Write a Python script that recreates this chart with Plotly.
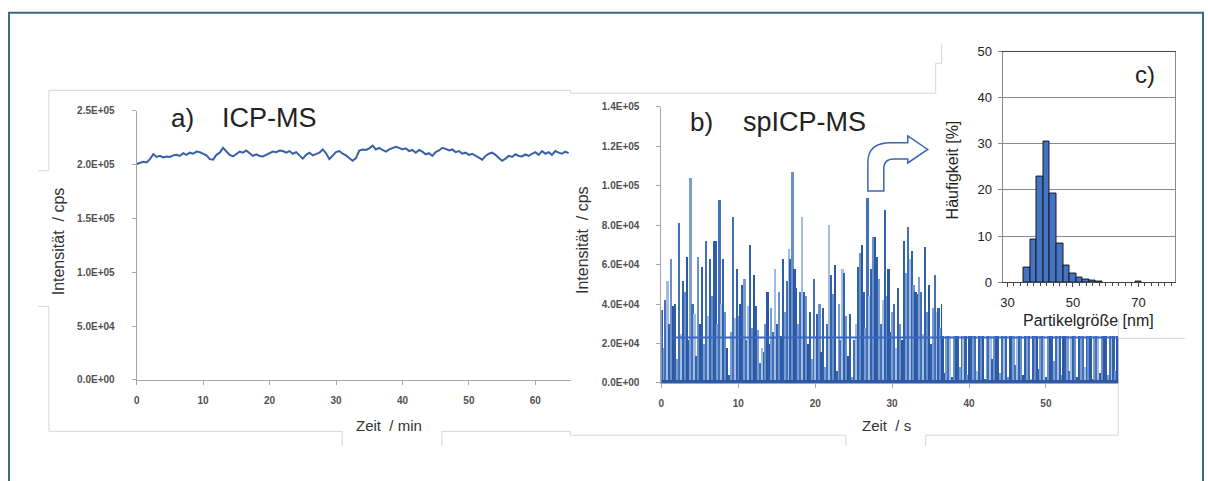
import numpy as np
import plotly.graph_objects as go

W, H = 1208, 481

# ---------------- data ----------------
# a) ICP-MS: continuous signal, one reading every 0.5 min (kcps)
icp_step_min = 0.5
icp_intensity_kcps = [
    200.5, 201.5, 202.5, 202, 205, 209.5, 207, 208, 206.5, 207.5,
    207, 208.5, 209, 208, 210.5, 209, 211, 210, 212, 211.5,
    210, 208.5, 205, 204.5, 209, 211, 215.5, 212, 209, 207.5,
    210, 212, 211, 213, 210.5, 208, 209.5, 208, 207.5, 209,
    210.5, 212, 211.5, 213, 212.5, 211, 212.5, 210, 211.5, 208,
    205.5, 209, 211, 208.5, 210, 211, 214, 210.5, 205, 208,
    211.5, 212.5, 210, 208.5, 206, 203.5, 206, 213, 214, 213.5,
    215, 217.5, 214, 215.5, 213.5, 212, 214, 215, 216.5, 215.5,
    214, 215, 212.5, 213.5, 211, 213.5, 212, 209.5, 210.5, 208,
    211.5, 213, 215.5, 214.5, 213, 214, 211.5, 212.5, 210, 211,
    209, 210, 208, 206, 204.5, 208, 210, 211, 209, 206,
    203.5, 205.5, 208, 207, 209.5, 208, 207.5, 209.5, 208, 210,
    211.5, 209, 212.5, 210, 211.5, 209, 212.5, 211, 210, 212,
    210.5,
]

# b) spICP-MS: single particle signal, dwell 0.25 s (kcps)
sp_dwell_s = 0.25
sp_intensity_kcps = [
    37, 18, 42, 52, 30, 63, 39, 40, 12, 81,
    25, 52, 46, 64, 22, 104, 40, 35, 14, 64,
    30, 59, 20, 72, 34, 63, 44, 72, 72, 30,
    93, 40, 63, 36, 18, 4, 26, 84, 33, 58,
    34, 40, 50, 53, 22, 39, 70, 28, 55, 39,
    27, 10, 18, 16, 30, 46, 20, 38, 26, 58,
    30, 46, 24, 63, 36, 52, 68, 63, 107, 58,
    48, 30, 46, 84, 46, 44, 20, 36, 12, 53,
    24, 35, 40, 16, 38, 8, 30, 80, 55, 45,
    60, 6, 40, 22, 58, 56, 34, 14, 35, 3,
    22, 30, 59, 66, 70, 46, 28, 94, 44, 58,
    74, 74, 64, 53, 30, 42, 88, 44, 58, 26,
    36, 40, 18, 48, 30, 22, 72, 56, 79, 63,
    67, 50, 46, 45, 54, 46, 25, 69, 36, 50,
    20, 38, 55, 36, 38, 28, 40, 5, 35, 52,
    28, 3, 45, 30, 62, 8, 33, 41, 27, 4,
    56, 38, 29, 47, 6, 34, 71, 25, 2, 39,
    44, 31, 12, 58, 36, 26, 5, 48, 33, 40,
    3, 29, 66, 35, 9, 42, 27, 51, 4, 37,
    30, 45, 2, 60, 32, 28, 7, 41, 53, 26,
    3, 35, 47, 30, 11, 39, 57, 28, 4, 43,
    33, 25, 6, 49, 38, 62, 3, 31, 44, 27,
    8, 36, 52, 29, 2, 41, 34, 26, 5, 46,
    39, 30, 4, 55, 28, 37, 6, 33,
]
sp_threshold_kcps = 23
sp_threshold_start_s = 1.5
sp_background_kcps = 1.5

# c) particle size distribution
size_bin_nm = [36, 38, 40, 42, 44, 46, 48, 50, 52, 54, 56, 58, 70]
size_freq_pct = [3.1, 9.2, 22.8, 30.4, 19.2, 8.4, 3.6, 1.9, 1.1, 0.5, 0.25, 0.2, 0.15]

a_xticks = [0, 10, 20, 30, 40, 50, 60]
a_yticks = [0, 5e4, 1e5, 1.5e5, 2e5, 2.5e5]
b_xticks = [0, 10, 20, 30, 40, 50]
b_yticks = [0, 2e4, 4e4, 6e4, 8e4, 1e5, 1.2e5, 1.4e5]

# ---------------- helpers ----------------
def px(x):
    return x / W

def py(y):
    return 1 - y / H

def sci(v):
    return f"{v:.1E}"

icp_t = np.arange(len(icp_intensity_kcps)) * icp_step_min
icp_y = np.array(icp_intensity_kcps) * 1000.0
sp_t = (np.arange(len(sp_intensity_kcps)) + 0.5) * sp_dwell_s
sp_y = np.array(sp_intensity_kcps) * 1000.0

B_XMAX = 59.4

fig = go.Figure()

# panel a
fig.add_trace(go.Scatter(x=icp_t, y=icp_y, mode="lines",
                         line=dict(color="#3760a8", width=2),
                         xaxis="x", yaxis="y", hoverinfo="skip"))

# panel b
bar_palette = ["#2f5eaa", "#7a9dd4", "#4470b8", "#a3bce2", "#3362ad", "#6a8fcd", "#2b58a4"]
bar_colors = [bar_palette[i % len(bar_palette)] for i in range(len(sp_y))]
fig.add_trace(go.Bar(x=sp_t, y=sp_y, width=sp_dwell_s * 0.9,
                     marker=dict(color=bar_colors, line=dict(width=0)),
                     xaxis="x2", yaxis="y2", hoverinfo="skip"))
fig.add_trace(go.Scatter(x=[0, B_XMAX], y=[sp_background_kcps * 1000] * 2, mode="lines",
                         fill="tozeroy", fillcolor="#2c5aa6", line=dict(width=0, color="#2c5aa6"),
                         xaxis="x2", yaxis="y2", hoverinfo="skip"))
# white area of the overlaid histogram picture (hides the upper part of b)
fig.add_trace(go.Scatter(x=[36.5, 60, 60, 36.5, 36.5],
                         y=[23800, 23800, 150000, 150000, 23800], mode="lines",
                         fill="toself", fillcolor="white", line=dict(width=0, color="white"),
                         xaxis="x2", yaxis="y2", hoverinfo="skip"))
fig.add_trace(go.Scatter(x=[sp_threshold_start_s, B_XMAX], y=[sp_threshold_kcps * 1000] * 2,
                         mode="lines", line=dict(color="#3a68c0", width=2),
                         xaxis="x2", yaxis="y2", hoverinfo="skip"))

# panel c
fig.add_trace(go.Bar(x=size_bin_nm, y=size_freq_pct, width=2,
                     marker=dict(color="#4472c4", line=dict(color="#1a1a1a", width=1)),
                     xaxis="x3", yaxis="y3", hoverinfo="skip"))

tickfont_small = dict(family="Liberation Sans, Arial, sans-serif", size=10, color="#505050",
                      weight="bold")
axis_grey = "#a6a6a6"

common_ab_x = dict(showgrid=False, zeroline=False, showline=True, linecolor=axis_grey,
                   linewidth=1, ticks="outside", ticklen=4, tickcolor=axis_grey,
                   tickfont=tickfont_small, ticklabelstandoff=7, fixedrange=True)
common_ab_y = dict(showgrid=False, zeroline=False, showline=True, linecolor=axis_grey,
                   linewidth=1, ticks="outside", ticklen=4, tickcolor=axis_grey,
                   tickfont=tickfont_small, ticklabelstandoff=15, fixedrange=True)

fig.update_layout(
    width=W, height=H,
    margin=dict(l=0, r=0, t=0, b=0),
    paper_bgcolor="white", plot_bgcolor="rgba(0,0,0,0)",
    showlegend=False, bargap=0,
    xaxis=dict(domain=[px(134), px(569)], range=[0, 65.3], anchor="y",
               tickvals=a_xticks, ticktext=[str(v) for v in a_xticks], **common_ab_x),
    yaxis=dict(domain=[py(385), py(107)], range=[0, 2.5e5], anchor="x",
               tickvals=a_yticks, ticktext=[sci(v) for v in a_yticks], **common_ab_y),
    xaxis2=dict(domain=[px(660), px(1118)], range=[0, B_XMAX], anchor="y2",
                tickvals=b_xticks, ticktext=[str(v) for v in b_xticks], **common_ab_x),
    yaxis2=dict(domain=[py(388), py(103)], range=[0, 1.4e5], anchor="x2",
                tickvals=b_yticks, ticktext=[sci(v) for v in b_yticks], **common_ab_y),
    xaxis3=dict(domain=[px(1002), px(1175)], range=[28.5, 81.2], anchor="y3",
                tickvals=[30, 50, 70], ticks="outside", ticklen=4, tickcolor="#444",
                minor=dict(dtick=2, tick0=30, ticks="outside", ticklen=3, tickcolor="#444"),
                showline=True, linecolor="#444", mirror=True, showgrid=False, zeroline=False,
                tickfont=dict(family="Liberation Sans, Arial, sans-serif", size=13, color="#222"),
                ticklabelstandoff=4, fixedrange=True),
    yaxis3=dict(domain=[py(284), py(46)], range=[0, 50], anchor="x3", dtick=10,
                ticks="outside", ticklen=4, tickcolor="#888",
                showline=True, linecolor="#888", mirror=True, showgrid=True,
                gridcolor="#8c8c8c", gridwidth=1, zeroline=False,
                tickfont=dict(family="Liberation Sans, Arial, sans-serif", size=13, color="#222"),
                ticklabelstandoff=3, fixedrange=True),
)

font_title = "Liberation Sans, Arial, sans-serif"

def ann(text, x, y, size, color="#222", textangle=0, xanchor="center", yanchor="middle"):
    fig.add_annotation(text=text, x=px(x), y=py(y), xref="paper", yref="paper",
                       showarrow=False, textangle=textangle, xanchor=xanchor, yanchor=yanchor,
                       font=dict(family=font_title, size=size, color=color))

ann("a)", 166, 115, 26, xanchor="left")
ann("ICP-MS", 218, 115, 27, xanchor="left")
ann("b)", 687, 119, 26, xanchor="left")
ann("spICP-MS", 740, 119, 27, xanchor="left")
ann("c)", 1145, 70, 24)
ann("Intensität\u00a0\u00a0/ cps", 56, 242, 16, color="#333", textangle=-90)
ann("Intensität\u00a0\u00a0/ cps", 581, 241, 16, color="#333", textangle=-90)
ann("Zeit\u00a0\u00a0/ min", 387, 432, 15, color="#333")
ann("Zeit\u00a0\u00a0/ s", 886, 432, 15, color="#333")
ann("Häufigkeit [%]", 952, 168, 16, color="#222", textangle=-90)
ann("Partikelgröße [nm]", 1088, 324, 16, color="#222")

# outer frame
fig.add_shape(type="rect", xref="paper", yref="paper", x0=px(6), x1=px(1203), y0=py(520), y1=py(6),
              line=dict(color="#3c6986", width=2), fillcolor="rgba(0,0,0,0)", layer="above")

# faint borders of the pasted picture pieces
segments = [
    ((46, 86), (569, 86)), ((569, 86), (569, 89)), ((569, 89), (935, 89)),
    ((935, 89), (935, 58)), ((935, 58), (941, 58)), ((941, 58), (941, 38)),
    ((46, 86), (46, 169)), ((35, 169), (46, 169)), ((35, 309), (46, 309)),
    ((46, 309), (46, 438)), ((46, 438), (340, 438)), ((340, 438), (340, 453)),
    ((440, 438), (440, 453)), ((440, 438), (569, 438)), ((569, 438), (569, 442)),
    ((569, 442), (845, 442)), ((845, 442), (845, 453)), ((925, 442), (925, 453)),
    ((925, 442), (1118, 442)), ((1118, 342), (1118, 442)), ((1118, 342), (1185, 342)),
]
for (x0, y0), (x1, y1) in segments:
    fig.add_shape(type="line", xref="paper", yref="paper",
                  x0=px(x0), y0=py(y0), x1=px(x1), y1=py(y1),
                  line=dict(color="#d6d6d6", width=1), layer="below")

# curved arrow from b) to c)
arrow_pts = [("M", (867, 190)), ("L", (867, 160)), ("Q", (867, 140), (890, 140)),
             ("L", (907, 140)), ("L", (907, 133)), ("L", (927, 147)), ("L", (907, 161)),
             ("L", (907, 157)), ("L", (893, 157)), ("Q", (883, 157), (883, 167)),
             ("L", (883, 190))]
path = ""
for item in arrow_pts:
    cmd = item[0]
    coords = " ".join(f"{px(x):.5f},{py(y):.5f}" for x, y in item[1:])
    path += f"{cmd} {coords} "
path += "Z"
fig.add_shape(type="path", path=path, xref="paper", yref="paper",
              line=dict(color="#3b67b0", width=1.5), fillcolor="white", layer="above")

fig.write_html("out.html", config={"displayModeBar": False})
